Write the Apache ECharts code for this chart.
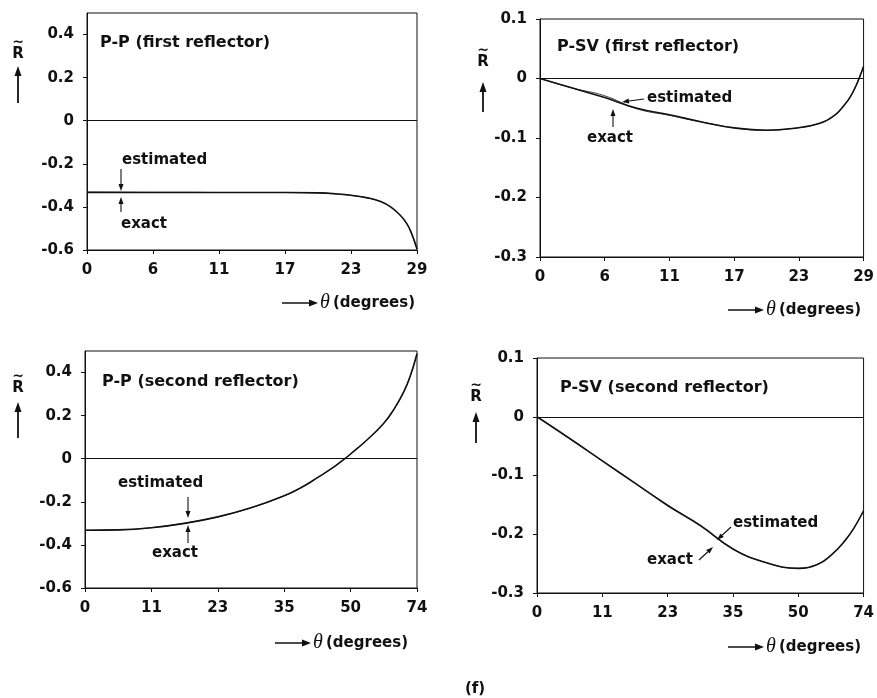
<!DOCTYPE html>
<html>
<head>
<meta charset="utf-8">
<script src="https://cdn.jsdelivr.net/npm/echarts@6/dist/echarts.min.js"></script>
<style>html,body{margin:0;padding:0;background:#fff}#c{width:877px;height:698px}</style>
</head>
<body>
<div id="c"></div>
<script>
// ---- data (x positions are in tick-index units along the equally spaced angle ticks) ----
const xLabelsFirst  = ['0','6','11','17','23','29'];
const xLabelsSecond = ['0','11','23','35','50','74'];
const yLabelsPP  = ['-0.6','-0.4','-0.2','0','0.2','0.4'];
const yLabelsPSV = ['-0.3','-0.2','-0.1','0','0.1'];

const ppFirstPos   = [0,0.5,1,1.5,2,2.5,3,3.5,3.8,4.0,4.25,4.45,4.6,4.75,4.85,4.92,5];
const ppFirstExact = [-0.333,-0.333,-0.333,-0.333,-0.333,-0.333,-0.333,-0.335,-0.34,-0.346,-0.358,-0.375,-0.40,-0.44,-0.48,-0.525,-0.595];
const ppFirstEst   = [-0.330,-0.331,-0.332,-0.332,-0.333,-0.333,-0.333,-0.335,-0.341,-0.347,-0.358,-0.376,-0.40,-0.44,-0.48,-0.525,-0.595];

const psvFirstPos   = [0,0.5,1,1.5,2,2.5,3,3.5,3.9,4.3,4.55,4.7,4.8,4.9,5];
const psvFirstExact = [0,-0.016,-0.032,-0.050,-0.061,-0.073,-0.083,-0.087,-0.084,-0.076,-0.062,-0.045,-0.030,-0.008,0.020];
const psvFirstEst   = [0,-0.016,-0.029,-0.051,-0.062,-0.073,-0.083,-0.087,-0.084,-0.076,-0.062,-0.045,-0.030,-0.008,0.020];

const ppSecondPos   = [0,0.5,1,1.5,2,2.5,3,3.25,3.5,3.75,3.9,4.0,4.25,4.5,4.65,4.8,4.9,5];
const ppSecondExact = [-0.332,-0.330,-0.320,-0.300,-0.270,-0.228,-0.172,-0.135,-0.088,-0.038,-0.003,0.022,0.088,0.165,0.228,0.31,0.385,0.487];
const ppSecondEst   = [-0.332,-0.330,-0.320,-0.299,-0.270,-0.228,-0.172,-0.135,-0.088,-0.038,-0.003,0.022,0.088,0.165,0.228,0.31,0.385,0.487];

const psvSecondPos   = [0,0.5,1,1.5,2,2.5,3,3.5,4,4.3,4.5,4.7,4.85,5];
const psvSecondExact = [0,-0.037,-0.075,-0.113,-0.151,-0.185,-0.225,-0.248,-0.258,-0.251,-0.236,-0.213,-0.190,-0.160];
const psvSecondEst   = [0,-0.037,-0.075,-0.113,-0.150,-0.186,-0.225,-0.248,-0.258,-0.251,-0.236,-0.213,-0.190,-0.160];

const panelTitles = ['P-P (first reflector)','P-SV (first reflector)','P-P (second reflector)','P-SV (second reflector)'];

// ---- layout ----
const INK = '#111';
const FONT = '"DejaVu Sans", sans-serif';
const grids = [
  {left:87,  top:13,  width:330, height:237},
  {left:540, top:19,  width:330, height:238},
  {left:85,  top:351, width:332, height:237},
  {left:537, top:358, width:328, height:235}
];
const panels = [
  {pos:ppFirstPos,  ex:ppFirstExact,  es:ppFirstEst,  xl:xLabelsFirst,  yl:yLabelsPP,  min:-0.6, max:0.5, iv:0.2},
  {pos:psvFirstPos, ex:psvFirstExact, es:psvFirstEst, xl:xLabelsFirst,  yl:yLabelsPSV, min:-0.3, max:0.1, iv:0.1},
  {pos:ppSecondPos, ex:ppSecondExact, es:ppSecondEst, xl:xLabelsSecond, yl:yLabelsPP,  min:-0.6, max:0.5, iv:0.2},
  {pos:psvSecondPos,ex:psvSecondExact,es:psvSecondEst,xl:xLabelsSecond, yl:yLabelsPSV, min:-0.3, max:0.1, iv:0.1}
];

function yFmt(labels){
  return function(v){
    for (const s of labels) if (Math.abs(parseFloat(s) - v) < 1e-6) return s;
    return '';
  };
}

const xAxis = [], yAxis = [], series = [];
panels.forEach((p, i) => {
  xAxis.push({
    gridIndex:i, type:'value', min:0, max:5, interval:1,
    axisLine:{show:true, onZero:false, lineStyle:{color:INK, width:1}},
    axisTick:{show:true, length:4, lineStyle:{color:INK}},
    splitLine:{show:false},
    axisLabel:{color:INK, fontFamily:FONT, fontWeight:'bold', fontSize:15, margin:13,
      formatter:(v) => p.xl[Math.round(v)]}
  });
  yAxis.push({
    gridIndex:i, type:'value', min:p.min, max:p.max, interval:p.iv,
    axisLine:{show:true, onZero:false, lineStyle:{color:INK, width:1}},
    axisTick:{show:true, length:4, lineStyle:{color:INK}},
    splitLine:{show:false},
    axisLabel:{color:INK, fontFamily:FONT, fontWeight:'bold', fontSize:15, margin:13,
      formatter:yFmt(p.yl), showMaxLabel: p.max === 0.1}
  });
  series.push({
    name:'estimated', type:'line', xAxisIndex:i, yAxisIndex:i,
    data:p.pos.map((x, k) => [x, p.es[k]]),
    showSymbol:false, smooth:0.45, lineStyle:{color:'#444', width:1}, z:3
  });
  series.push({
    name:'exact', type:'line', xAxisIndex:i, yAxisIndex:i,
    data:p.pos.map((x, k) => [x, p.ex[k]]),
    showSymbol:false, smooth:0.45, lineStyle:{color:INK, width:1.6}, z:4,
    markLine:{silent:true, symbol:['none','none'], label:{show:false},
      lineStyle:{color:INK, width:1, type:'solid'}, data:[{yAxis:0}]}
  });
});

// ---- graphic helpers (annotations only) ----
function txt(x, y, s, opt){
  return {type:'text', x:x, y:y, silent:true, z:20,
    style:Object.assign({text:s, fill:INK, font:'bold 15px ' + FONT, align:'left', verticalAlign:'middle'}, opt || {})};
}
function arrow(x1, y1, x2, y2, head, hw, lw){
  head = head || 7; hw = hw || 3; lw = lw || 1.2;
  const dx = x2 - x1, dy = y2 - y1, L = Math.hypot(dx, dy);
  const ux = dx / L, uy = dy / L;
  const bx = x2 - ux * head, by = y2 - uy * head;
  return [
    {type:'line', silent:true, z:20, shape:{x1:x1, y1:y1, x2:bx, y2:by}, style:{stroke:INK, lineWidth:lw}},
    {type:'polygon', silent:true, z:20, shape:{points:[[x2,y2],[bx - uy*hw, by + ux*hw],[bx + uy*hw, by - ux*hw]]}, style:{fill:INK}}
  ];
}
function thetaName(x0, y){
  return [].concat(
    arrow(x0, y, x0 + 36, y, 9, 3.5, 1.5),
    [txt(x0 + 43, y, 'θ', {font:'italic 20px "Liberation Serif", serif', align:'center'}),
     txt(x0 + 51, y, '(degrees)')]
  );
}
function rLabel(x, yR, yArrowBottom, yArrowTop){
  return [].concat(
    [txt(x, yR, 'R', {align:'center', font:'bold 15px ' + FONT}),
     txt(x, yR - 12, '~', {align:'center', font:'bold 14px ' + FONT})],
    arrow(x, yArrowBottom, x, yArrowTop, 10, 3.5, 1.8)
  );
}

let g = [];
g.push(txt(100, 43, panelTitles[0], {font:'bold 16px ' + FONT}));
g.push(txt(557, 47, panelTitles[1], {font:'bold 16px ' + FONT}));
g.push(txt(102, 382, panelTitles[2], {font:'bold 16px ' + FONT}));
g.push(txt(560, 388, panelTitles[3], {font:'bold 16px ' + FONT}));

// annotations
g.push(txt(122, 160, 'estimated'));
g = g.concat(arrow(121, 169, 121, 191, 7, 2.5, 1.1));
g.push(txt(121, 224, 'exact'));
g = g.concat(arrow(121, 212, 121, 197, 7, 2.5, 1.1));

g.push(txt(647, 98, 'estimated'));
g = g.concat(arrow(644, 99, 622, 102, 7, 2.5, 1.1));
g.push(txt(587, 138, 'exact'));
g = g.concat(arrow(613, 127, 613, 109, 7, 2.5, 1.1));

g.push(txt(118, 483, 'estimated'));
g = g.concat(arrow(188, 497, 188, 518, 7, 2.5, 1.1));
g.push(txt(152, 553, 'exact'));
g = g.concat(arrow(188, 543, 188, 525, 7, 2.5, 1.1));

g.push(txt(733, 523, 'estimated'));
g = g.concat(arrow(731, 527, 717, 540, 7, 2.5, 1.1));
g.push(txt(647, 560, 'exact'));
g = g.concat(arrow(699, 560, 713, 547, 7, 2.5, 1.1));

// axis names
g = g.concat(thetaName(282, 303), thetaName(728, 310), thetaName(275, 643), thetaName(728, 647));
// R~ labels
g = g.concat(rLabel(18, 54, 103, 66), rLabel(483, 62, 112, 82), rLabel(18, 388, 438, 402), rLabel(476, 397, 443, 412));
g.push(txt(475, 689, '(f)', {align:'center'}));

const chart = echarts.init(document.getElementById('c'), null, {renderer:'canvas'});
chart.setOption({
  animation:false,
  backgroundColor:'#fff',
  grid:grids.map(gr => Object.assign({show:true, borderColor:INK, borderWidth:1, backgroundColor:'transparent'}, gr)),
  xAxis:xAxis,
  yAxis:yAxis,
  series:series,
  graphic:{elements:g}
});
</script>
</body>
</html>
